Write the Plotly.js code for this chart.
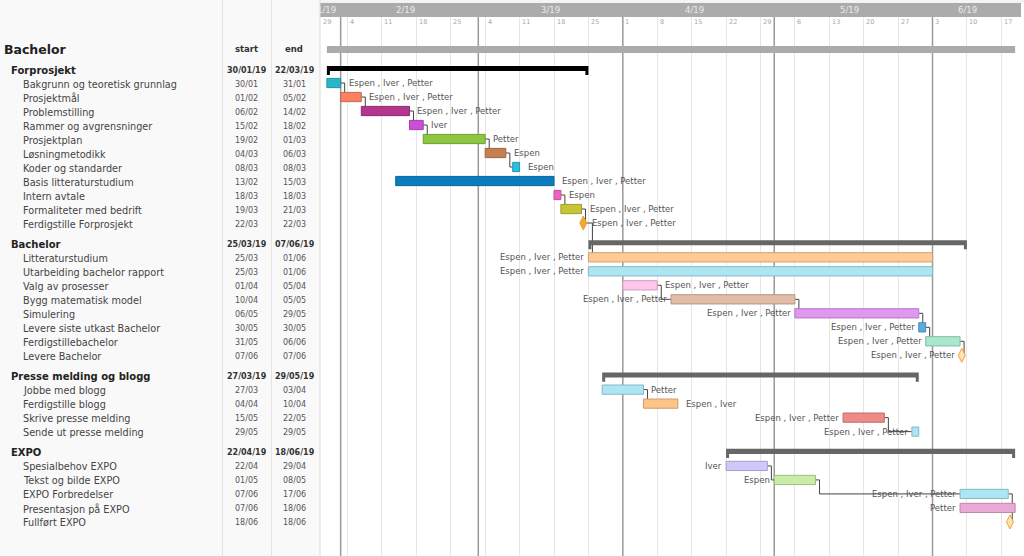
<!DOCTYPE html>
<html><head><meta charset="utf-8">
<script src="https://cdn.plot.ly/plotly-3.0.1.min.js"></script>
<style>html,body{margin:0;padding:0;background:#fff}#chart{width:1024px;height:556px}</style>
</head><body><div id="chart"></div>
<script>
// ---------------- DATA ----------------
const projectName = 'Bachelor';
const projectStart = '2019-01-30';
const projectEnd = '2019-06-18';

const groupNames  = ['Forprosjekt', 'Bachelor', 'Presse melding og blogg', 'EXPO'];
const groupStarts = ['2019-01-30', '2019-03-25', '2019-03-27', '2019-04-22'];
const groupEnds   = ['2019-03-22', '2019-06-07', '2019-05-29', '2019-06-18'];
const groupColors = ['#000000', '#666666', '#666666', '#666666'];

const taskNames = [
  'Bakgrunn og teoretisk grunnlag', 'Prosjektmål', 'Problemstilling', 'Rammer og avgrensninger',
  'Prosjektplan', 'Løsningmetodikk', 'Koder og standarder', 'Basis litteraturstudium',
  'Intern avtale', 'Formaliteter med bedrift', 'Ferdigstille Forprosjekt',
  'Litteraturstudium', 'Utarbeiding bachelor rapport', 'Valg av prosesser', 'Bygg matematisk model',
  'Simulering', 'Levere siste utkast Bachelor', 'Ferdigstillebachelor', 'Levere Bachelor',
  'Jobbe med blogg', 'Ferdigstille blogg', 'Skrive presse melding', 'Sende ut presse melding',
  'Spesialbehov EXPO', 'Tekst og bilde EXPO', 'EXPO Forbredelser', 'Presentasjon på EXPO', 'Fullført EXPO'
];
const taskGroups = [0,0,0,0,0,0,0,0,0,0,0, 1,1,1,1,1,1,1,1, 2,2,2,2, 3,3,3,3,3];
const taskStarts = [
  '2019-01-30','2019-02-01','2019-02-06','2019-02-15','2019-02-19','2019-03-04','2019-03-08','2019-02-13',
  '2019-03-18','2019-03-19','2019-03-22',
  '2019-03-25','2019-03-25','2019-04-01','2019-04-10','2019-05-06','2019-05-30','2019-05-31','2019-06-07',
  '2019-03-27','2019-04-04','2019-05-15','2019-05-29',
  '2019-04-22','2019-05-01','2019-06-07','2019-06-07','2019-06-18'
];
const taskEnds = [
  '2019-01-31','2019-02-05','2019-02-14','2019-02-18','2019-03-01','2019-03-06','2019-03-08','2019-03-15',
  '2019-03-18','2019-03-21','2019-03-22',
  '2019-06-01','2019-06-01','2019-04-05','2019-05-05','2019-05-29','2019-05-30','2019-06-06','2019-06-07',
  '2019-04-03','2019-04-10','2019-05-22','2019-05-29',
  '2019-04-29','2019-05-08','2019-06-17','2019-06-18','2019-06-18'
];
const EIP = 'Espen , Iver , Petter';
const taskResources = [
  EIP, EIP, EIP, 'Iver', 'Petter', 'Espen', 'Espen', EIP, 'Espen', EIP, EIP,
  EIP, EIP, EIP, EIP, EIP, EIP, EIP, EIP,
  'Petter', 'Espen , Iver', EIP, EIP,
  'Iver', 'Espen', EIP, 'Petter', ''
];
const taskLabelSides = [
  'r','r','r','r','r','r','r','r','r','r','r',
  'l','l','r','l','l','l','l','l',
  'r','r','l','l',
  'l','l','l','l','l'
];
const taskMilestones = [
  false,false,false,false,false,false,false,false,false,false,true,
  false,false,false,false,false,false,false,true,
  false,false,false,false,
  false,false,false,false,true
];
const taskColors = [
  '#2ab6c8','#fa8262','#b3358c','#cc4fd8','#8dc63f','#c4804e','#2bbde0','#0a7dbf','#f062c2','#c8c43a','#f0aa34',
  '#ffca94','#abe6f2','#ffc6ee','#e2bca6','#e197ef','#5aace0','#a8e8cc','#ffe2bc',
  '#abe6f2','#ffc487','#ee8b86','#abe6f2',
  '#d0c8fa','#c9eca6','#abe6f2','#eaaad8','#ffe2bc'
];
const depFrom = [0,1,2,3,4,5, 8,9,10, 13,14,15,16,17, 19,21, 23,24,25];
const depTo   = [1,2,3,4,5,6, 9,10,11, 14,15,16,17,18, 20,22, 24,25,27];

const weekTicks = ['2019-01-29','2019-02-04','2019-02-11','2019-02-18','2019-02-25','2019-03-04','2019-03-11',
  '2019-03-18','2019-03-25','2019-04-01','2019-04-08','2019-04-15','2019-04-22','2019-04-29','2019-05-06',
  '2019-05-13','2019-05-20','2019-05-27','2019-06-03','2019-06-10','2019-06-17'];
const weekTickLabels = ['29','4','11','18','25','4','11','18','25','1','8','15','22','29','6','13','20','27','3','10','17'];
const monthStarts = ['2019-01-01','2019-02-01','2019-03-01','2019-04-01','2019-05-01','2019-06-01','2019-07-01'];
const monthLabels = ['1/19','2/19','3/19','4/19','5/19','6/19'];

const tableColumnTitles = ['start', 'end'];

// ---------------- HELPERS ----------------
const W = 1024, H = 556, CHART_LEFT = 320;
const FONT = 'DejaVu Sans';
const DAY = 86400000, HOUR = 3600000;
const rangeStart = '2019-01-29';
const rangeEnd = '2019-06-20 07:00';
const yRange = [(H - 70) / 14, -70 / 14];

function ms(s) { return Date.parse(s.replace(' ', 'T') + (s.length <= 10 ? 'T00:00:00Z' : ':00Z')); }
function ds(m) { return new Date(m).toISOString().slice(0, 19).replace('T', ' '); }
function isWeekend(m) { const d = new Date(m).getUTCDay(); return d === 6 || d === 0; }
function adj(m) { // weekend instant -> following Monday 00:00
  const d = new Date(m).getUTCDay();
  if (d === 6 || d === 0) return Math.floor(m / DAY) * DAY + (d === 6 ? 2 : 1) * DAY;
  return m;
}
function subWd(m, h) { let r = m - h; if (isWeekend(r)) r -= 2 * DAY; return r; }
function addWd(m, h) { let r = m + h; if (isWeekend(r)) r += 2 * DAY; return r; }
function fmt(s, yr) { const p = s.split('-'); return p[2] + '/' + p[1] + (yr ? '/' + p[0].slice(2) : ''); }
function darken(hex, f) {
  const n = parseInt(hex.slice(1), 16);
  const r = Math.round(((n >> 16) & 255) * f), g = Math.round(((n >> 8) & 255) * f), b = Math.round((n & 255) * f);
  return 'rgb(' + r + ',' + g + ',' + b + ')';
}
const px = v => v / W;

// rows
const GAP = 0.45;
const rowTask = [], rowGroup = [];
let k = 0;
groupNames.forEach((g, gi) => {
  rowGroup[gi] = k + gi * GAP; k++;
  taskNames.forEach((t, ti) => { if (taskGroups[ti] === gi) { rowTask[ti] = k + gi * GAP; k++; } });
});
const projectRow = -1.5;
const SHIFT = -0.07;

const startMs = i => ms(taskStarts[i]);
const endB = i => adj(ms(taskEnds[i]) + DAY);
const mileX = i => startMs(i) + 6 * HOUR;

function poly(xs, ys, fill, line, lw) {
  return {type: 'scatter', mode: 'lines', x: xs.map(ds), y: ys, fill: 'toself', fillcolor: fill,
    line: {color: line, width: lw}, hoverinfo: 'skip', showlegend: false};
}
function rect(x0, x1, yc, h, fill, line, lw) {
  const t = yc - h / 2, b = yc + h / 2;
  return poly([x0, x1, x1, x0, x0], [t, t, b, b, t], fill, line, lw);
}

// ---------------- TRACES ----------------
const traces = [];

// month lines
const mlx = [], mly = [];
monthStarts.slice(1, -1).forEach(m => { const v = ds(adj(ms(m))); mlx.push(v, v, null); mly.push(yRange[1], yRange[0], null); });
traces.push({type: 'scatter', mode: 'lines', x: mlx, y: mly, line: {color: '#9a9a9a', width: 1.5}, hoverinfo: 'skip'});

// connectors
const cx = [], cy = [];
depFrom.forEach((f, j) => {
  const t = depTo[j];
  const base = taskMilestones[f] ? adj(startMs(f) + DAY) : endB(f);
  const sx = taskMilestones[f] ? mileX(f) : base;
  const stub = addWd(base, 14 * HOUR);
  const yf = rowTask[f] + SHIFT, yt = rowTask[t] + SHIFT;
  const tx = taskMilestones[t] ? mileX(t) : startMs(t);
  cx.push(ds(sx), ds(stub), ds(stub)); cy.push(yf, yf, yt);
  if (tx > stub) { cx.push(ds(tx)); cy.push(yt); }
  cx.push(null); cy.push(null);
});
traces.push({type: 'scatter', mode: 'lines', x: cx, y: cy, line: {color: '#444', width: 1}, hoverinfo: 'skip'});

// overall project bar
traces.push(rect(ms(projectStart), adj(ms(projectEnd) + DAY), projectRow + 0.04, 0.5, '#ababab', '#ababab', 0));

// group summary bars with end caps
const CAP = 10.5 * HOUR;
groupNames.forEach((g, i) => {
  const s = ms(groupStarts[i]), e = adj(ms(groupEnds[i]) + DAY);
  const r = rowGroup[i], top = r - 0.29, bb = r + 0.07, cb = r + 0.36;
  const sc = addWd(s, CAP), ec = subWd(e, CAP);
  traces.push(poly([s, e, e, ec, ec, sc, sc, s, s], [top, top, cb, cb, bb, bb, cb, cb, top], groupColors[i], groupColors[i], 0));
});

// task bars
taskNames.forEach((t, i) => {
  if (taskMilestones[i]) return;
  traces.push(rect(startMs(i), endB(i), rowTask[i] + SHIFT, 0.66, taskColors[i], darken(taskColors[i], 0.8), 1));
});

// milestones
const mi = taskNames.map((_, i) => i).filter(i => taskMilestones[i]);
traces.push({type: 'scatter', mode: 'markers', x: mi.map(i => ds(mileX(i))), y: mi.map(i => rowTask[i] + SHIFT),
  marker: {symbol: 'diamond-tall', size: 10, color: mi.map(i => taskColors[i]), line: {color: '#eea22e', width: 1}},
  hoverinfo: 'skip'});

// ---------------- ANNOTATIONS ----------------
const ann = [];
function tAnn(text, x, y, size, color, anchor, bold) {
  ann.push({text: bold ? '<b>' + text + '</b>' : text, xref: 'paper', yref: 'y', x: px(x), y: y,
    xanchor: anchor, yanchor: 'middle', showarrow: false, borderpad: 0,
    font: {family: FONT, size: size, color: color}});
}
tAnn(projectName, 3, projectRow, 12.5, '#222', 'left', true);
tAnn(tableColumnTitles[0], 246.5, projectRow, 8.5, '#333', 'center', true);
tAnn(tableColumnTitles[1], 294, projectRow, 8.5, '#333', 'center', true);
groupNames.forEach((g, gi) => {
  tAnn(g, 10, rowGroup[gi], 10, '#222', 'left', true);
  tAnn(fmt(groupStarts[gi], true), 246.5, rowGroup[gi], 8, '#333', 'center', true);
  tAnn(fmt(groupEnds[gi], true), 294.5, rowGroup[gi], 8, '#333', 'center', true);
});
taskNames.forEach((t, ti) => {
  tAnn(t, 22, rowTask[ti], 9.7, '#444', 'left', false);
  tAnn(fmt(taskStarts[ti], false), 246.5, rowTask[ti], 8, '#555', 'center', false);
  tAnn(fmt(taskEnds[ti], false), 294, rowTask[ti], 8, '#555', 'center', false);
});
// resource labels
taskNames.forEach((t, i) => {
  if (!taskResources[i]) return;
  const mil = taskMilestones[i];
  let x, anchor, shift;
  if (taskLabelSides[i] === 'r') { x = mil ? mileX(i) : endB(i); anchor = 'left'; shift = mil ? 8 : 7; }
  else { x = mil ? mileX(i) : startMs(i); anchor = 'right'; shift = mil ? -6 : -3; }
  ann.push({text: taskResources[i], xref: 'x', yref: 'y', x: ds(x), y: rowTask[i] + SHIFT, xanchor: anchor,
    yanchor: 'middle', xshift: shift, showarrow: false, borderpad: 0,
    font: {family: FONT, size: 8.5, color: '#555'}});
});
// week tick labels
weekTicks.forEach((w, i) => {
  ann.push({text: weekTickLabels[i], xref: 'x', yref: 'paper', x: w, y: 1 - 22.5 / H, xanchor: 'left',
    yanchor: 'middle', xshift: 1.5, showarrow: false, borderpad: 0, font: {family: FONT, size: 6.5, color: '#a8a8a8'}});
});
// month labels
monthLabels.forEach((m, i) => {
  const a = Math.max(ms(monthStarts[i]), ms(rangeStart)), b = Math.min(ms(monthStarts[i + 1]), ms(rangeEnd));
  const mid = adj((a + b) / 2);
  ann.push({text: m, xref: 'x', yref: 'paper', x: ds(mid), y: 1 - 10 / H, xanchor: 'center', yanchor: 'middle',
    xshift: -4, showarrow: false, borderpad: 0, font: {family: FONT, size: 8.5, color: '#ececec'}});
});

// ---------------- SHAPES ----------------
const shapes = [
  {type: 'rect', xref: 'paper', yref: 'paper', x0: 0, x1: px(CHART_LEFT), y0: 0, y1: 1, fillcolor: '#f9f9f9', line: {width: 0}, layer: 'below'},
  {type: 'rect', xref: 'paper', yref: 'paper', x0: px(CHART_LEFT), x1: 1, y0: 1 - 3 / H, y1: 1, fillcolor: '#f4f4f4', line: {width: 0}, layer: 'above'},
  {type: 'rect', xref: 'paper', yref: 'paper', x0: px(CHART_LEFT), x1: px(1021), y0: 1 - 17 / H, y1: 1 - 3 / H, fillcolor: '#ababab', line: {width: 0}, layer: 'above'},
  {type: 'line', xref: 'paper', yref: 'paper', x0: px(222.5), x1: px(222.5), y0: 0, y1: 1, line: {color: '#e3e3e3', width: 1}},
  {type: 'line', xref: 'paper', yref: 'paper', x0: px(271.5), x1: px(271.5), y0: 0, y1: 1, line: {color: '#e3e3e3', width: 1}},
  {type: 'line', xref: 'paper', yref: 'paper', x0: px(320), x1: px(320), y0: 0, y1: 1, line: {color: '#dcdcdc', width: 1}}
];

const layout = {
  width: W, height: H, margin: {l: 0, r: 0, t: 0, b: 0},
  paper_bgcolor: '#ffffff', plot_bgcolor: '#ffffff', showlegend: false,
  font: {family: FONT},
  xaxis: {type: 'date', domain: [px(CHART_LEFT), 1], range: [rangeStart, rangeEnd],
    rangebreaks: [{bounds: ['sat', 'mon']}], tickmode: 'array', tickvals: weekTicks,
    showticklabels: false, showgrid: true, gridcolor: '#e6e6e6', gridwidth: 1, zeroline: false,
    showline: false, ticks: '', fixedrange: true},
  yaxis: {range: yRange, autorange: false, showgrid: false, zeroline: false, showticklabels: false,
    showline: false, ticks: '', fixedrange: true},
  shapes: shapes, annotations: ann
};

Plotly.newPlot('chart', traces, layout, {staticPlot: true, displayModeBar: false});
</script>
</body></html>
